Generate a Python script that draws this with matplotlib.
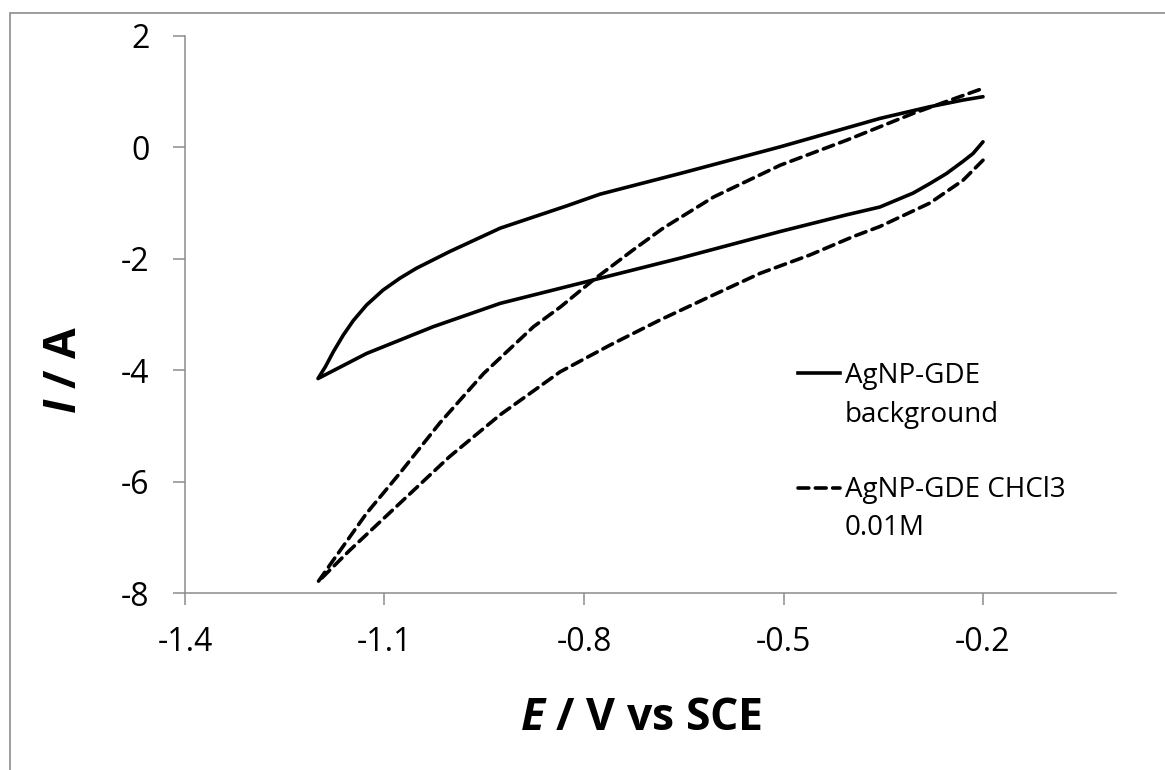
import numpy as np
import matplotlib.pyplot as plt
from matplotlib.patches import Rectangle

# Veriler
bg_E = [-0.200, -0.215, -0.230, -0.255, -0.280, -0.305, -0.355, -0.405, -0.455,
        -0.505, -0.656, -0.836, -0.926, -1.027, -1.127, -1.200,
        -1.189, -1.177, -1.162, -1.147, -1.127, -1.102, -1.077, -1.052, -1.027,
        -1.002, -0.964, -0.926, -0.876, -0.826, -0.776, -0.656, -0.505, -0.355,
        -0.280, -0.230, -0.200]
bg_I = [0.10, -0.11, -0.25, -0.47, -0.65, -0.82, -1.07, -1.21, -1.36,
        -1.51, -1.99, -2.53, -2.80, -3.22, -3.70, -4.15,
        -3.94, -3.67, -3.37, -3.11, -2.83, -2.56, -2.35, -2.17, -2.02,
        -1.87, -1.66, -1.45, -1.25, -1.05, -0.84, -0.47, 0.01, 0.52,
        0.73, 0.85, 0.91]

chcl3_E = [-0.200, -0.230, -0.280, -0.355, -0.395, -0.460, -0.535, -0.611, -0.686,
           -0.761, -0.836, -0.926, -1.002, -1.077, -1.152, -1.200,
           -1.177, -1.127, -1.077, -1.017, -0.951, -0.876, -0.836, -0.786, -0.726,
           -0.681, -0.605, -0.505, -0.405, -0.305, -0.200]
chcl3_I = [-0.23, -0.59, -1.00, -1.42, -1.60, -1.93, -2.26, -2.68, -3.10,
           -3.55, -4.03, -4.80, -5.55, -6.39, -7.23, -7.80,
           -7.41, -6.57, -5.85, -4.95, -4.06, -3.22, -2.87, -2.38, -1.84,
           -1.45, -0.89, -0.32, 0.13, 0.61, 1.06]

x_ticks = [-1.4, -1.1, -0.8, -0.5, -0.2]
y_ticks = [-8, -6, -4, -2, 0, 2]
labels = [["AgNP-GDE", "background"], ["AgNP-GDE CHCl3", "0.01M"]]

plt.rcParams['font.family'] = ['Open Sans', 'DejaVu Sans']
plt.rcParams['mathtext.fontset'] = 'custom'
plt.rcParams['mathtext.it'] = 'Open Sans:italic:bold'
plt.rcParams['mathtext.rm'] = 'Open Sans:bold'

gray = '#8c8c8c'
dash = (0, (3, 1.8))
fig = plt.figure(figsize=(11.65, 7.7), dpi=100)
ax = fig.add_axes([185/1165, 1 - 593/770, (1116-185)/1165, (593-36)/770])

ax.plot(bg_E, bg_I, color='black', lw=2.6, solid_capstyle='round', solid_joinstyle='round')
ax.plot(chcl3_E, chcl3_I, color='black', lw=2.6, linestyle=dash, dash_capstyle='round')

ax.set_xlim(-1.4, 0.0)
ax.set_ylim(-8, 2)
ax.set_xticks(x_ticks)
ax.set_xticklabels([f"{v:.1f}" for v in x_ticks])
ax.set_yticks(y_ticks)
ax.set_yticklabels([str(v) for v in y_ticks])

for s in ['top', 'right']:
    ax.spines[s].set_visible(False)
for s in ['left', 'bottom']:
    ax.spines[s].set_color(gray)
    ax.spines[s].set_linewidth(1.1)
ax.tick_params(axis='both', direction='out', length=8.6, width=1.1, color=gray,
               labelsize=23)
ax.tick_params(axis='x', pad=15)
ax.tick_params(axis='y', pad=17)

ax.set_xlabel(r'$\mathit{E}$ / V vs SCE', fontsize=32, fontweight='bold')
ax.xaxis.set_label_coords(0.49, -0.185)
ax.set_ylabel(r'$\mathit{I}$ / A', fontsize=32, fontweight='bold')
ax.yaxis.set_label_coords(-0.105, 0.40)

# Lejant (elle)
ax.plot([0.658, 0.7036], [0.395, 0.395], transform=ax.transAxes, color='black',
        lw=2.6, clip_on=False)
ax.plot([0.658, 0.7036], [0.1885, 0.1885], transform=ax.transAxes, color='black',
        lw=2.6, linestyle=dash, dash_capstyle='round', clip_on=False)
for (l1, l2), y1, y2 in zip(labels, [0.377, 0.172], [0.307, 0.104]):
    ax.text(0.709, y1, l1, transform=ax.transAxes, fontsize=20, va='baseline')
    ax.text(0.709, y2, l2, transform=ax.transAxes, fontsize=20, va='baseline')

# Dış çerçeve
fig.patches.append(Rectangle((10/1165, -0.1), 1.2, 1.1 - 13/770, transform=fig.transFigure,
                             fill=False, edgecolor=gray, lw=1.2))

fig.savefig('out.png', dpi=100)
